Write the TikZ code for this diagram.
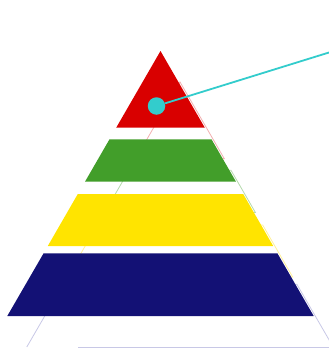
\documentclass[tikz,border=0pt]{standalone}
\usetikzlibrary{calc}
\definecolor{bandred}{HTML}{D90000}
\definecolor{bandgreen}{HTML}{429E2A}
\definecolor{bandyellow}{HTML}{FFE400}
\definecolor{bandnavy}{HTML}{131175}
\definecolor{teal}{HTML}{33CCCC}
\definecolor{fred}{HTML}{F2B0B0}
\definecolor{fgreen}{HTML}{B5DAAD}
\definecolor{fyellow}{HTML}{FFF09A}
\definecolor{fnavy}{HTML}{C8C8E6}
\tikzset{
  band/.style={fill=#1, draw=none},
  shadowline/.style={draw=#1, line width=0.8pt},
  dotnode/.style={circle, fill=teal, draw=none, minimum size=17.5pt, inner sep=0pt},
  leader/.style={draw=teal, line width=1.8pt},
}
\begin{document}
\begin{tikzpicture}[x=1pt, y=-1pt]
\useasboundingbox (0,0) rectangle (329,351);
% faint offset outlines (drawn behind)
\draw[shadowline=fred] (180,82) -- (135.7,158.7) -- (224.3,158.7) -- cycle;
\draw[shadowline=fgreen] (129,170.3) -- (104.6,212.5) -- (255.4,212.5) -- (231,170.3) -- cycle;
\draw[shadowline=fyellow] (97.3,225) -- (67.3,277) -- (292.7,277) -- (262.7,225) -- cycle;
\draw[shadowline=fnavy] (26.8,347) -- (63.1,284.3) -- (296.9,284.3) -- (333.2,347);
\coordinate (baseL) at (78,347.3);
\coordinate (baseR) at (329,347.3);
\draw[shadowline=fnavy] (baseL) -- (baseR);
% bands
\fill[band=bandred] (160.5,51) -- (116.2,127.7) -- (204.8,127.7) -- cycle;
\fill[band=bandgreen] (109.5,139.3) -- (85.1,181.5) -- (235.9,181.5) -- (211.5,139.3) -- cycle;
\fill[band=bandyellow] (77.8,194) -- (47.8,246) -- (273.2,246) -- (243.2,194) -- cycle;
\fill[band=bandnavy] (43.6,253.3) -- (7.3,316) -- (313.7,316) -- (277.4,253.3) -- cycle;
% marker and leader line
\node[dotnode] (dot) at (156.5,106) {};
\coordinate (lineend) at (329,52.5);
\draw[leader] (dot) -- (lineend);
\end{tikzpicture}
\end{document}
